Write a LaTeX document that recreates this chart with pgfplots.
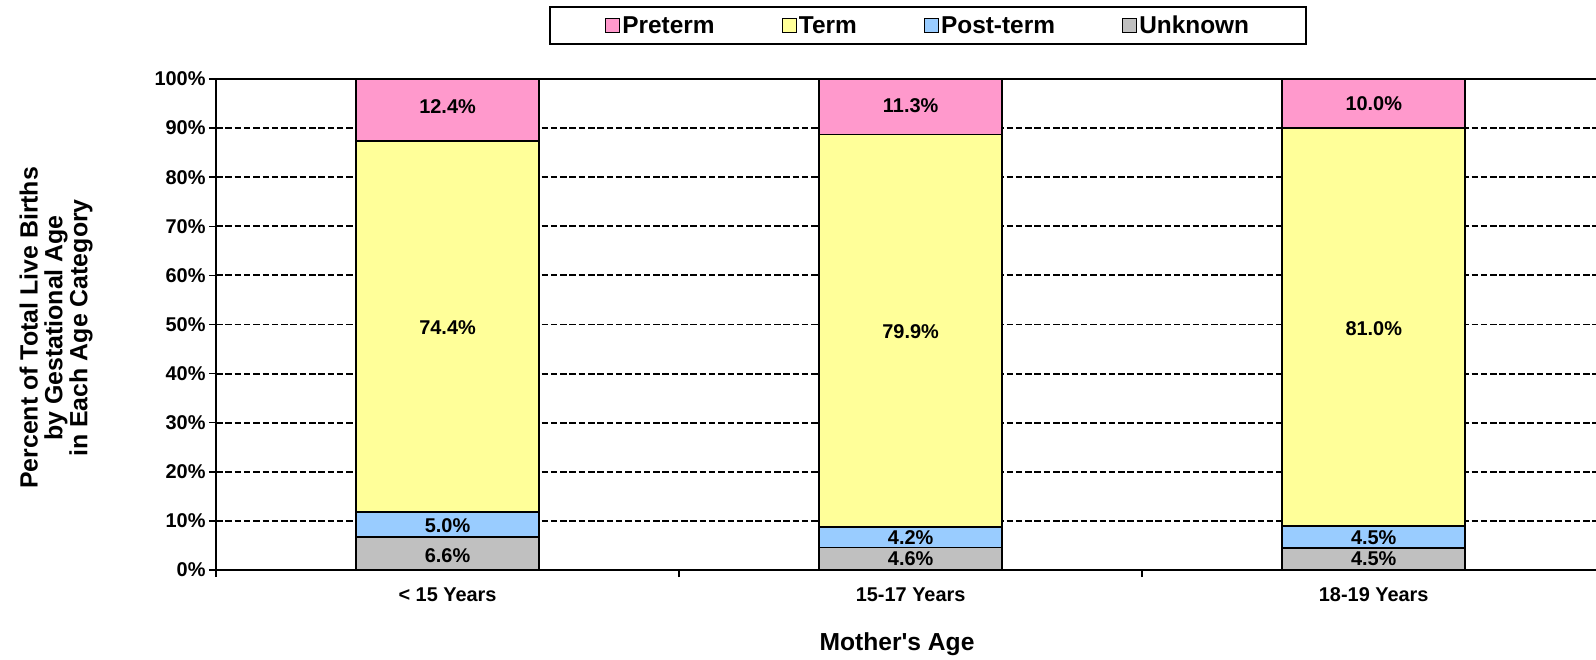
\documentclass[border=0pt]{standalone}
\usepackage{fontspec}
\setmainfont{Liberation Sans}[Ligatures=TeXOff]
\usepackage{pgfplots}
\pgfplotsset{compat=1.18}
\usepackage{pgfplotstable}
\pgfkeys{/pgf/number format/assume math mode=true}
\definecolor{cPre}{HTML}{FF99CC}
\definecolor{cTerm}{HTML}{FFFF99}
\definecolor{cPost}{HTML}{99CCFF}
\definecolor{cUnk}{HTML}{C0C0C0}

% drawn segment heights (100% stacked)
\pgfplotstableread{
x unk post term pre
0 6.71 5.08 75.61 12.60
1 4.6 4.2 79.9 11.3
2 4.5 4.5 81.0 10.0
}\bars

% printed labels and their vertical positions
\pgfplotstableread{
x y lab
0 3.0 6.6
0 9.0 5.0
0 49.3 74.4
0 94.3 12.4
1 2.3 4.6
1 6.5 4.2
1 48.5 79.9
1 94.6 11.3
2 2.3 4.5
2 6.5 4.5
2 49.1 81.0
2 95.0 10.0
}\labs

\pgfplotsset{
  base/.style={
    at={(216bp,90bp)}, anchor=south west,
    scale only axis, width=1380bp, height=491bp,
    xmin=-0.5, xmax=2.48, ymin=0, ymax=100,
    enlargelimits=false,
  }
}

\begin{document}
\begin{tikzpicture}
\useasboundingbox (0,0) rectangle (1596bp,660bp);
\begin{axis}[base,
  ybar stacked, bar width=183bp,
  axis x line*=bottom, axis y line*=left,
  axis line style={black, line width=2bp},
  tick align=outside, major tick length=7bp,
  tick style={black, line width=1.5bp},
  tick label style={font=\bfseries\fontsize{20}{20}\selectfont},
  xtick={-0.5,0.5,1.5}, xticklabels={,,},
  extra x ticks={0,1,2},
  extra x tick labels={{< 15 Years},{15-17 Years},{18-19 Years}},
  extra x tick style={tick style={draw=none}, xticklabel style={yshift=-7bp}},
  ytick={0,10,20,30,40,50,60,70,80,90,100},
  yticklabels={0\%,10\%,20\%,30\%,40\%,50\%,60\%,70\%,80\%,90\%,100\%},
  ymajorgrids,
  major grid style={black, line width=1.9bp, dash pattern=on 6.5bp off 2.8bp},
  extra y ticks={100}, extra y tick labels={},
  extra y tick style={grid=major, major grid style={black, solid, line width=2bp}, tick style={draw=none}},
  xlabel={Mother's Age},
  xlabel style={at={(axis description cs:0.4935,-0.1507)}, anchor=center, font=\bfseries\fontsize{24.7}{25}\selectfont},
  ylabel={Percent of Total Live Births\\by Gestational Age\\in Each Age Category},
  ylabel style={at={(axis description cs:-0.1159,0.493)}, anchor=center, align=center, font=\bfseries\fontsize{25}{25}\selectfont},
  legend style={at={(0.516,1.1487)}, anchor=north, draw=black, line width=2bp,
    font=\bfseries\fontsize{24.5}{24.5}\selectfont, inner xsep=55bp, inner ysep=7bp,
    /tikz/every even column/.append style={column sep=65bp}},
  legend columns=4,
]
\addlegendimage{legend image code/.code={\draw[fill=cPre,draw=black,line width=1.3bp] (0bp,-7bp) rectangle (14bp,7bp);}}
\addlegendentry{Preterm}
\addlegendimage{legend image code/.code={\draw[fill=cTerm,draw=black,line width=1.3bp] (0bp,-7bp) rectangle (14bp,7bp);}}
\addlegendentry{Term}
\addlegendimage{legend image code/.code={\draw[fill=cPost,draw=black,line width=1.3bp] (0bp,-7bp) rectangle (14bp,7bp);}}
\addlegendentry{Post-term}
\addlegendimage{legend image code/.code={\draw[fill=cUnk,draw=black,line width=1.3bp] (0bp,-7bp) rectangle (14bp,7bp);}}
\addlegendentry{Unknown}
\addplot[fill=cUnk, draw=black, line width=1.5bp, forget plot] table[x=x,y=unk]{\bars};
\addplot[fill=cPost, draw=black, line width=1.5bp, forget plot] table[x=x,y=post]{\bars};
\addplot[fill=cTerm, draw=black, line width=1.5bp, forget plot] table[x=x,y=term]{\bars};
\addplot[fill=cPre, draw=black, line width=1.5bp, forget plot] table[x=x,y=pre]{\bars};
\end{axis}
\begin{axis}[base, hide axis, clip=false]
\addplot[draw=none, mark=none,
  nodes near coords={\pgfmathprintnumber[fixed,fixed zerofill,precision=1]{\pgfplotspointmeta}\%},
  point meta=explicit,
  every node near coord/.append style={anchor=center, inner sep=0pt, font=\bfseries\fontsize{20}{20}\selectfont}]
  table[x=x,y=y,meta=lab]{\labs};
\end{axis}
\end{tikzpicture}
\end{document}
